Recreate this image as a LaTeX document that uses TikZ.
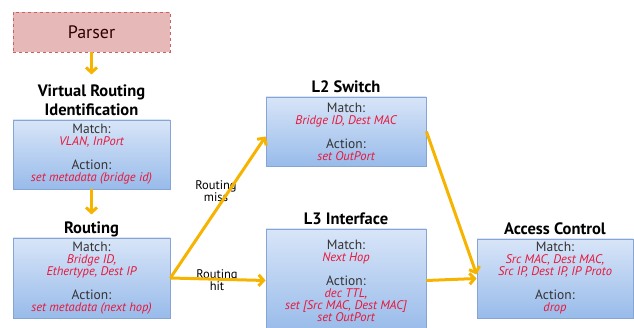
\documentclass[tikz,border=0pt]{standalone}
\usepackage{fontspec}
\setmainfont{PT Sans}
\usepackage{tikz}
\usetikzlibrary{arrows.meta,calc}
\definecolor{flowgold}{RGB}{246,180,0}
\definecolor{matchred}{RGB}{232,22,58}
\definecolor{boxedge}{RGB}{135,165,212}
\definecolor{boxtop}{RGB}{216,229,248}
\definecolor{boxbot}{RGB}{152,187,234}
\definecolor{parserfill}{RGB}{230,185,184}
\definecolor{parseredge}{RGB}{205,95,95}

\newcommand\tightlines{\setlength\lineskiplimit{-6pt}\setlength\lineskip{0pt}}
\newcommand\fieldtext[1]{{\color{matchred}\fontsize{12.5}{12}\selectfont\itshape #1}}
\newcommand\flowtable[7]{% name, center, width, height, title, match, action
  \node[tablebox,minimum width=#3,minimum height=#4] at (#2) (#1) {Match:\\#6\\[12pt]Action:\\#7};
  \node[tabletitle,anchor=south,yshift=3pt] at (#1.north) (#1_title) {#5};
}

\begin{document}
\begin{tikzpicture}[x=1pt,y=-1pt]
		\tikzstyle{tablebox}=[draw=boxedge,line width=0.8pt,top color=boxtop,bottom color=boxbot,
				      align=center,inner sep=2pt,text=black!80,
				      font=\fontsize{13.5}{12}\selectfont\tightlines]
		\tikzstyle{tabletitle}=[align=center,inner sep=1pt,text depth=0pt,
				      font=\fontsize{16.5}{19}\selectfont\bfseries\tightlines]
		\tikzstyle{flowarrow}=[draw=flowgold,line width=3pt,-{Straight Barb[length=5pt,width=11pt]}]
		\tikzstyle{edgelabel}=[align=center,inner sep=0pt,font=\fontsize{12.5}{12.5}\selectfont]

\useasboundingbox (0,0) rectangle (634,328);

\node[draw=parseredge,dashed,fill=parserfill,line width=0.9pt,minimum width=157pt,minimum height=40pt,
      font=\fontsize{18}{18}\selectfont,text=black!70!red!60!black] at (91.5,32) (parser) {Parser};

\flowtable{vri}{91.5,154.5}{157pt}{69pt}{Virtual Routing\\Identification}
  {\fieldtext{VLAN, InPort}}{\fieldtext{set metadata (bridge id)}}
\flowtable{routing}{91.5,278}{157pt}{80pt}{Routing}
  {\fieldtext{Bridge ID,}\\\fieldtext{Ethertype, Dest IP}}{\fieldtext{set metadata (next hop)}}
\flowtable{l2}{346,131.5}{160pt}{69pt}{L2 Switch}
  {\fieldtext{Bridge ID, Dest MAC}}{\fieldtext{set OutPort}}
\flowtable{l3}{346,280.5}{160pt}{103pt}{L3 Interface}
  {\fieldtext{Next Hop}}{\fieldtext{dec TTL,}\\\fieldtext{set [Src MAC, Dest MAC]}\\\fieldtext{set OutPort}}
\flowtable{acl}{555,278.5}{156pt}{79pt}{Access Control}
  {\fieldtext{Src MAC, Dest MAC,}\\\fieldtext{Src IP, Dest IP, IP Proto}}{\fieldtext{drop}}

\node[edgelabel] at (216,191) (miss_label) {Routing\\miss};
\node[edgelabel] at (217,280) (hit_label) {Routing\\hit};

\draw[flowarrow,shorten >=9pt] (parser) -- (vri_title);
\draw[flowarrow,shorten >=6pt] (vri) -- (routing_title);
\draw[flowarrow] (routing.east) -- ([yshift=-5pt]l2.west);
\draw[flowarrow] (routing.east) -- (l3.west);
\draw[flowarrow] (l2.east) -- ([yshift=4pt]acl.west);
\draw[flowarrow] (l3.east) -- (acl.west);

\end{tikzpicture}
\end{document}
